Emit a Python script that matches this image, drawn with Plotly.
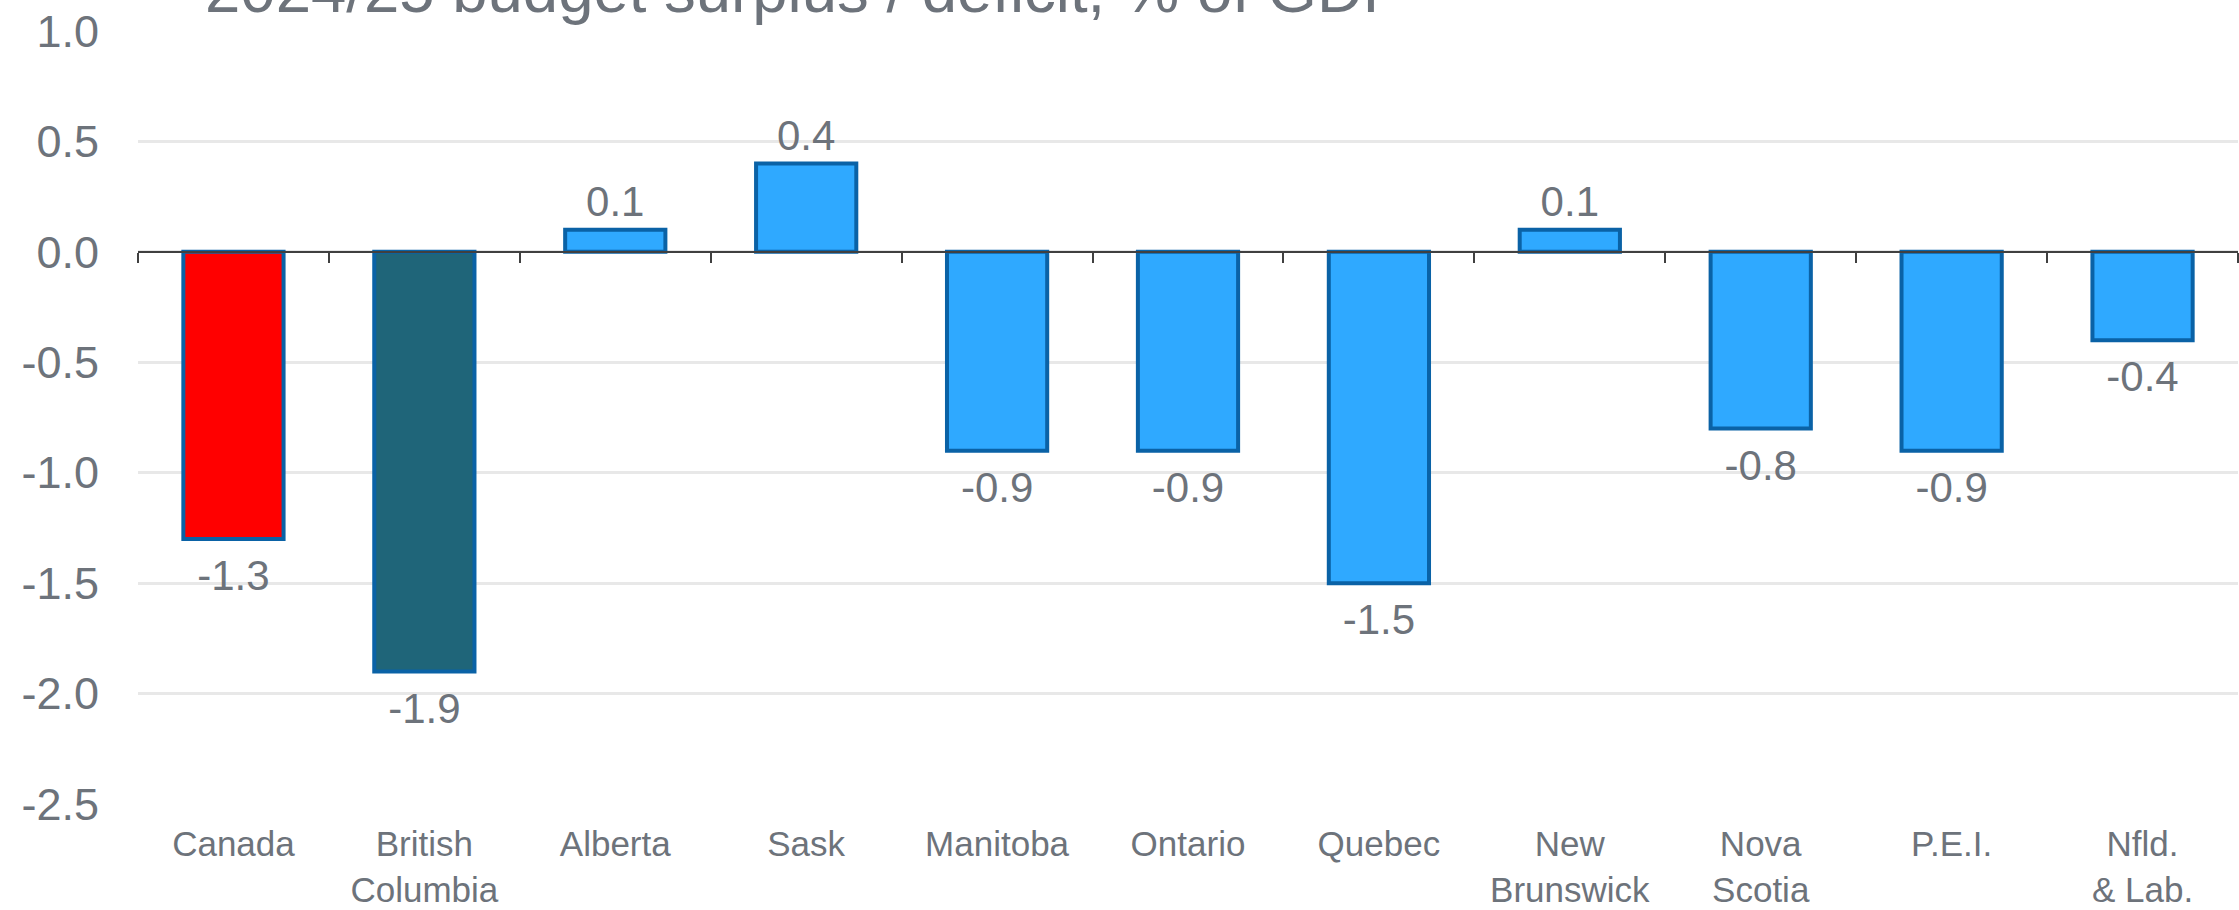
import plotly.graph_objects as go

categories = ["Canada", "British<br>Columbia", "Alberta", "Sask", "Manitoba", "Ontario",
              "Quebec", "New<br>Brunswick", "Nova<br>Scotia", "P.E.I.", "Nfld.<br>& Lab."]
values = [-1.3, -1.9, 0.1, 0.4, -0.9, -0.9, -1.5, 0.1, -0.8, -0.9, -0.4]
labels = ["-1.3", "-1.9", "0.1", "0.4", "-0.9", "-0.9", "-1.5", "0.1", "-0.8", "-0.9", "-0.4"]
bar_colors = ["#FF0000", "#1F6579"] + ["#2FA9FF"] * 9
title_text = "2024/25 budget surplus / deficit, % of GDP"
y_ticks = [1.0, 0.5, 0.0, -0.5, -1.0, -1.5, -2.0, -2.5]
y_ticklabels = ["1.0", "0.5", "0.0", "-0.5", "-1.0", "-1.5", "-2.0", "-2.5"]

FONT = "Liberation Sans, Arial, sans-serif"
GRAY = "#6d737b"

fig = go.Figure()
fig.add_trace(go.Bar(
    x=categories, y=values,
    marker=dict(color=bar_colors, line=dict(color="#0A62A6", width=4)),
    hoverinfo="skip",
))
# value labels: above positive bars, below negative bars
fig.add_trace(go.Scatter(
    x=categories, y=values, text=labels, mode="markers+text",
    textposition=["bottom center" if v < 0 else "top center" for v in values],
    marker=dict(size=[30 if v < 0 else 3.5 for v in values], opacity=0),
    textfont=dict(family=FONT, size=42, color=GRAY),
    cliponaxis=False, hoverinfo="skip", showlegend=False,
))
# invisible trace to carry categories onto the zero-line axis
fig.add_trace(go.Scatter(
    x=categories, y=[0] * len(categories), xaxis="x2", mode="markers",
    marker=dict(opacity=0), hoverinfo="skip", showlegend=False,
))

fig.update_layout(
    width=2239, height=910,
    margin=dict(l=138, r=1, t=31, b=104),
    paper_bgcolor="white", plot_bgcolor="white",
    showlegend=False, bargap=0.475,
    font=dict(family=FONT, color=GRAY),
    xaxis=dict(type="category", categoryarray=categories, range=[-0.5, 10.5],
               showgrid=False, showline=False, ticks="", zeroline=False,
               tickfont=dict(size=35, color=GRAY), ticklabelstandoff=16),
    xaxis2=dict(type="category", categoryarray=categories, range=[-0.5, 10.5],
                overlaying="x", anchor="free", position=2.5 / 3.5,
                showline=True, linecolor="#404040", linewidth=2,
                ticks="outside", ticklen=10, tickwidth=2, tickcolor="#404040",
                tickson="boundaries", showticklabels=False, showgrid=False,
                zeroline=False),
    yaxis=dict(range=[-2.5, 1.0], tickvals=y_ticks, ticktext=y_ticklabels,
               showgrid=True, gridcolor="#e8e8e8", gridwidth=2.5,
               zeroline=False, showline=False, ticks="",
               tickfont=dict(size=45, color=GRAY), ticklabelstandoff=38),
    annotations=[dict(
        text=title_text, xref="paper", yref="paper", x=(203 - 138) / 2100, y=1.053,
        xanchor="left", yanchor="middle", showarrow=False,
        font=dict(family=FONT, size=63.5, color=GRAY),
    )],
)

fig.write_html("out.html", config={"displayModeBar": False},
               post_script="document.body.style.margin='0';")
